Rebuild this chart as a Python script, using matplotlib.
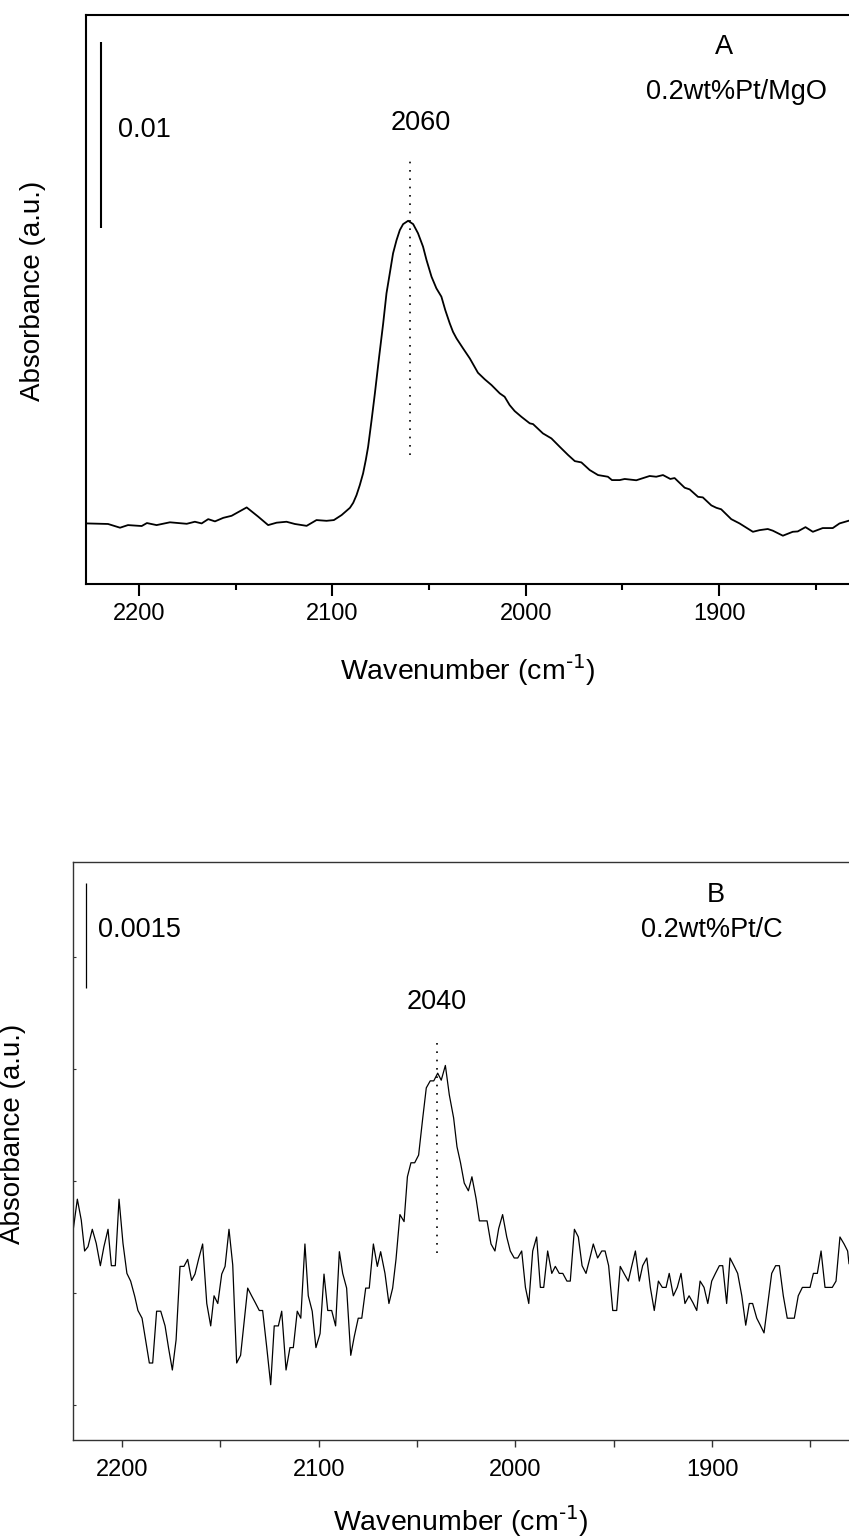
import matplotlib
matplotlib.use("Agg")
import matplotlib.pyplot as plt

plt.rcParams['font.family'] = ['Liberation Sans', 'DejaVu Sans']
plt.rcParams['mathtext.default'] = 'regular'

# ---- panel A: 0.2wt%Pt/MgO, smooth spectrum ----
wn_a = [2227.0, 2216.0, 2209.8, 2205.7, 2198.6, 2195.9, 2190.9, 2184.0, 2175.3, 2171.1,
        2167.6, 2164.2, 2160.7, 2156.4, 2152.1, 2144.3, 2138.3, 2133.2, 2128.8, 2123.7,
        2119.4, 2113.3, 2108.2, 2103.0, 2099.2, 2095.2, 2090.9, 2089.2, 2087.5, 2085.8,
        2084.1, 2082.7, 2081.5, 2079.7, 2078.0, 2075.8, 2073.7, 2072.0, 2070.3, 2068.6,
        2066.8, 2065.1, 2063.4, 2060.8, 2058.2, 2055.7, 2053.1, 2051.3, 2048.7, 2046.2,
        2043.6, 2041.6, 2039.3, 2037.6, 2035.8, 2032.4, 2028.9, 2024.7, 2021.2, 2017.7,
        2013.4, 2010.9, 2008.3, 2005.7, 2002.2, 1997.9, 1996.2, 1991.1, 1986.7, 1982.4,
        1978.1, 1974.6, 1971.2, 1966.9, 1962.6, 1957.5, 1955.4, 1951.4, 1948.8, 1942.8,
        1935.9, 1932.5, 1929.0, 1925.2, 1923.0, 1917.8, 1915.2, 1910.9, 1908.4, 1904.0,
        1901.4, 1898.9, 1893.7, 1889.4, 1882.5, 1879.0, 1874.8, 1872.2, 1867.0, 1861.9,
        1859.3, 1855.3, 1851.5, 1846.4, 1841.2, 1837.7, 1833.1]
abs_a = [0.00326, 0.00323, 0.00303, 0.00317, 0.00312, 0.00328, 0.00317, 0.00332, 0.00324, 0.00335,
         0.00326, 0.00349, 0.00337, 0.00356, 0.00367, 0.00412, 0.00362, 0.00317, 0.00330, 0.00335,
         0.00323, 0.00313, 0.00344, 0.00340, 0.00344, 0.00371, 0.00410, 0.00437, 0.00478, 0.00532,
         0.00595, 0.00667, 0.00738, 0.00882, 0.01025, 0.01222, 0.01402, 0.01563, 0.01670, 0.01778,
         0.01849, 0.01903, 0.01935, 0.01953, 0.01935, 0.01886, 0.01814, 0.01742, 0.01652, 0.01590,
         0.01545, 0.01473, 0.01402, 0.01356, 0.01321, 0.01267, 0.01213, 0.01136, 0.01101, 0.01070,
         0.01025, 0.01007, 0.00962, 0.00930, 0.00899, 0.00864, 0.00860, 0.00810, 0.00783, 0.00738,
         0.00694, 0.00661, 0.00654, 0.00613, 0.00586, 0.00577, 0.00559, 0.00559, 0.00565, 0.00558,
         0.00581, 0.00577, 0.00586, 0.00565, 0.00570, 0.00518, 0.00509, 0.00469, 0.00466, 0.00423,
         0.00410, 0.00402, 0.00349, 0.00326, 0.00281, 0.00290, 0.00296, 0.00287, 0.00260, 0.00281,
         0.00283, 0.00306, 0.00281, 0.00301, 0.00301, 0.00326, 0.00340]

# ---- panel B: 0.2wt%Pt/C, noisy spectrum ----
wn_b = [2225.4, 2222.7, 2220.7, 2219.0, 2217.3, 2215.1, 2213.1, 2211.0, 2209.2, 2207.1,
        2205.4, 2203.4, 2201.5, 2199.5, 2197.5, 2195.6, 2193.5, 2191.9, 2189.8, 2188.0,
        2186.1, 2184.4, 2182.4, 2180.3, 2178.1, 2176.3, 2174.4, 2172.5, 2170.5, 2168.5,
        2166.6, 2164.6, 2162.9, 2161.0, 2159.0, 2156.9, 2154.9, 2153.2, 2151.3, 2149.3,
        2147.6, 2145.6, 2143.7, 2141.7, 2139.7, 2137.9, 2136.1, 2134.1, 2132.2, 2130.2,
        2128.5, 2126.4, 2124.4, 2122.6, 2120.5, 2118.8, 2116.6, 2114.6, 2112.9, 2110.9,
        2109.1, 2107.0, 2105.3, 2103.3, 2101.4, 2099.3, 2097.3, 2095.4, 2093.4, 2091.4,
        2089.5, 2087.8, 2085.8, 2083.7, 2081.9, 2079.9, 2078.1, 2076.1, 2074.3, 2072.2,
        2070.2, 2068.5, 2066.3, 2064.3, 2062.4, 2060.7, 2058.7, 2056.6, 2054.9, 2053.1,
        2051.2, 2049.2, 2047.1, 2045.3, 2043.3, 2041.5, 2039.5, 2037.7, 2035.6, 2033.6,
        2031.4, 2029.7, 2027.9, 2026.0, 2023.9, 2022.1, 2020.0, 2018.3, 2016.5, 2014.4,
        2012.4, 2010.4, 2008.5, 2006.5, 2004.4, 2002.6, 2000.6, 1998.8, 1996.8, 1994.9,
        1993.2, 1991.2, 1989.2, 1987.3, 1985.6, 1983.6, 1981.5, 1979.7, 1977.7, 1975.9,
        1973.8, 1972.1, 1970.0, 1968.0, 1966.1, 1964.1, 1962.2, 1960.4, 1958.2, 1956.1,
        1954.4, 1952.6, 1950.5, 1948.5, 1946.7, 1944.6, 1942.6, 1940.8, 1939.0, 1937.0,
        1935.3, 1933.2, 1931.4, 1929.4, 1927.3, 1925.3, 1923.4, 1921.8, 1919.7, 1917.7,
        1915.8, 1913.8, 1911.7, 1909.7, 1907.8, 1906.1, 1904.1, 1902.2, 1900.2, 1898.3,
        1896.3, 1894.6, 1892.6, 1890.9, 1888.9, 1887.0, 1884.9, 1882.9, 1881.1, 1879.4,
        1877.3, 1875.5, 1873.6, 1871.7, 1869.7, 1867.7, 1865.8, 1863.8, 1861.8, 1859.9,
        1858.2, 1856.2, 1854.1, 1852.3, 1850.2, 1848.5, 1846.5, 1844.6, 1842.6, 1840.7,
        1838.9, 1837.0, 1835.0, 1832.9, 1831.1, 1830.4]
abs_b = [0.00288, 0.00344, 0.00314, 0.00270, 0.00276, 0.00301, 0.00281, 0.00249, 0.00276, 0.00301,
         0.00249, 0.00249, 0.00344, 0.00281, 0.00238, 0.00227, 0.00205, 0.00185, 0.00174, 0.00143,
         0.00110, 0.00110, 0.00184, 0.00184, 0.00163, 0.00131, 0.00100, 0.00143, 0.00248, 0.00248,
         0.00258, 0.00228, 0.00237, 0.00259, 0.00280, 0.00195, 0.00163, 0.00206, 0.00195, 0.00237,
         0.00248, 0.00301, 0.00250, 0.00110, 0.00121, 0.00169, 0.00217, 0.00206, 0.00196, 0.00185,
         0.00185, 0.00132, 0.00079, 0.00163, 0.00163, 0.00184, 0.00100, 0.00132, 0.00132, 0.00184,
         0.00174, 0.00280, 0.00206, 0.00184, 0.00132, 0.00152, 0.00237, 0.00185, 0.00185, 0.00163,
         0.00269, 0.00238, 0.00217, 0.00121, 0.00148, 0.00174, 0.00174, 0.00217, 0.00217, 0.00280,
         0.00248, 0.00269, 0.00238, 0.00195, 0.00217, 0.00258, 0.00322, 0.00312, 0.00376, 0.00396,
         0.00396, 0.00407, 0.00460, 0.00503, 0.00513, 0.00513, 0.00524, 0.00514, 0.00535, 0.00493,
         0.00460, 0.00419, 0.00396, 0.00367, 0.00356, 0.00376, 0.00345, 0.00313, 0.00313, 0.00313,
         0.00280, 0.00270, 0.00302, 0.00322, 0.00290, 0.00270, 0.00260, 0.00260, 0.00270, 0.00218,
         0.00195, 0.00270, 0.00290, 0.00218, 0.00218, 0.00270, 0.00238, 0.00248, 0.00238, 0.00238,
         0.00227, 0.00227, 0.00301, 0.00290, 0.00249, 0.00238, 0.00259, 0.00280, 0.00260, 0.00270,
         0.00270, 0.00249, 0.00185, 0.00185, 0.00248, 0.00237, 0.00227, 0.00249, 0.00270, 0.00227,
         0.00249, 0.00260, 0.00218, 0.00185, 0.00227, 0.00218, 0.00218, 0.00238, 0.00206, 0.00218,
         0.00238, 0.00195, 0.00206, 0.00196, 0.00185, 0.00227, 0.00218, 0.00195, 0.00227, 0.00238,
         0.00249, 0.00249, 0.00195, 0.00260, 0.00249, 0.00238, 0.00206, 0.00164, 0.00195, 0.00195,
         0.00174, 0.00164, 0.00153, 0.00195, 0.00238, 0.00249, 0.00249, 0.00206, 0.00174, 0.00174,
         0.00174, 0.00206, 0.00218, 0.00218, 0.00218, 0.00238, 0.00238, 0.00270, 0.00218, 0.00218,
         0.00218, 0.00227, 0.00290, 0.00280, 0.00270, 0.00252]

xticks = [2200, 2100, 2000, 1900]
minor_xticks = [2150, 2050, 1950, 1850]
peak_a = 2060
peak_b = 2040
scale_a = 0.01
scale_b = 0.0015
yticks_b = [0.0005, 0.0021, 0.0037, 0.0053, 0.0069]

fig = plt.figure(figsize=(8.49, 15.37), dpi=100)
xlabel = r'Wavenumber (cm$^{\text{-1}}$)'

# top panel
ax1 = fig.add_axes([0.1013, 0.6200, 0.8987, 0.3702])
ax1.plot(wn_a, abs_a, color='black', lw=1.3)
ax1.set_xlim(2227.4, 1832.8)
ax1.set_ylim(0, 0.03059)
ax1.set_xticks(xticks)
ax1.set_xticks(minor_xticks, minor=True)
ax1.set_yticks([])
ax1.spines['right'].set_visible(False)
for s in ['left', 'top', 'bottom']:
    ax1.spines[s].set_linewidth(1.5)
ax1.tick_params(axis='x', which='major', direction='out', length=8.5, width=1.5,
                labelsize=17, pad=5)
ax1.tick_params(axis='x', which='minor', direction='out', length=4.5, width=1.5)
ax1.set_xlabel(xlabel, fontsize=20.5)
ax1.xaxis.set_label_coords(0.5, -0.12)
ax1.set_ylabel('Absorbance (a.u.)', fontsize=20)
ax1.yaxis.set_label_coords(-0.053, 0.515)
ax1.vlines(peak_a, 0.00694, 0.02290, colors='black', lw=1.2, linestyles=(0, (1, 4)))
ax1.vlines(2219.6, 0.02914 - scale_a, 0.02914, colors='black', lw=1.5)
ax1.text(2210.9, 0.02441, '0.01', fontsize=19.5, va='center', ha='left')
ax1.text(2054.3, 0.02478, str(peak_a), fontsize=19.5, va='center', ha='center')
ax1.text(1897.2, 0.02887, 'A', fontsize=19.5, va='center', ha='center')
ax1.text(1890.9, 0.02645, '0.2wt%Pt/MgO', fontsize=19.5, va='center', ha='center')

# bottom panel
ax2 = fig.add_axes([0.0860, 0.0631, 0.9140, 0.3761])
ax2.plot(wn_b, abs_b, color='black', lw=0.9)
ax2.set_xlim(2224.9, 1830.4)
ax2.set_ylim(0, 0.008257)
ax2.set_xticks(xticks)
ax2.set_xticks(minor_xticks, minor=True)
ax2.set_yticks(yticks_b)
ax2.set_yticklabels([])
ax2.spines['right'].set_visible(False)
for s in ['left', 'top', 'bottom']:
    ax2.spines[s].set_linewidth(1.0)
    ax2.spines[s].set_color('#333333')
ax2.tick_params(axis='x', which='both', direction='out', length=5, width=1.0,
                color='#333333', labelsize=17, pad=9)
ax2.tick_params(axis='y', direction='in', length=2.5, width=0.8, color='#333333')
ax2.set_xlabel(xlabel, fontsize=20.5)
ax2.xaxis.set_label_coords(0.5, -0.11)
ax2.set_ylabel('Absorbance (a.u.)', fontsize=20)
ax2.yaxis.set_label_coords(-0.061, 0.53)
ax2.vlines(peak_b, 0.00267, 0.00567, colors='black', lw=1.2, linestyles=(0, (1, 4)))
ax2.vlines(2218.3, 0.00796 - scale_b, 0.00796, colors='black', lw=0.9)
ax2.text(2212.2, 0.00729, '0.0015', fontsize=19.5, va='center', ha='left')
ax2.text(2039.9, 0.00626, str(peak_b), fontsize=19.5, va='center', ha='center')
ax2.text(1898.0, 0.00779, 'B', fontsize=19.5, va='center', ha='center')
ax2.text(1900.0, 0.00729, '0.2wt%Pt/C', fontsize=19.5, va='center', ha='center')

fig.savefig('out.png', dpi=100)
